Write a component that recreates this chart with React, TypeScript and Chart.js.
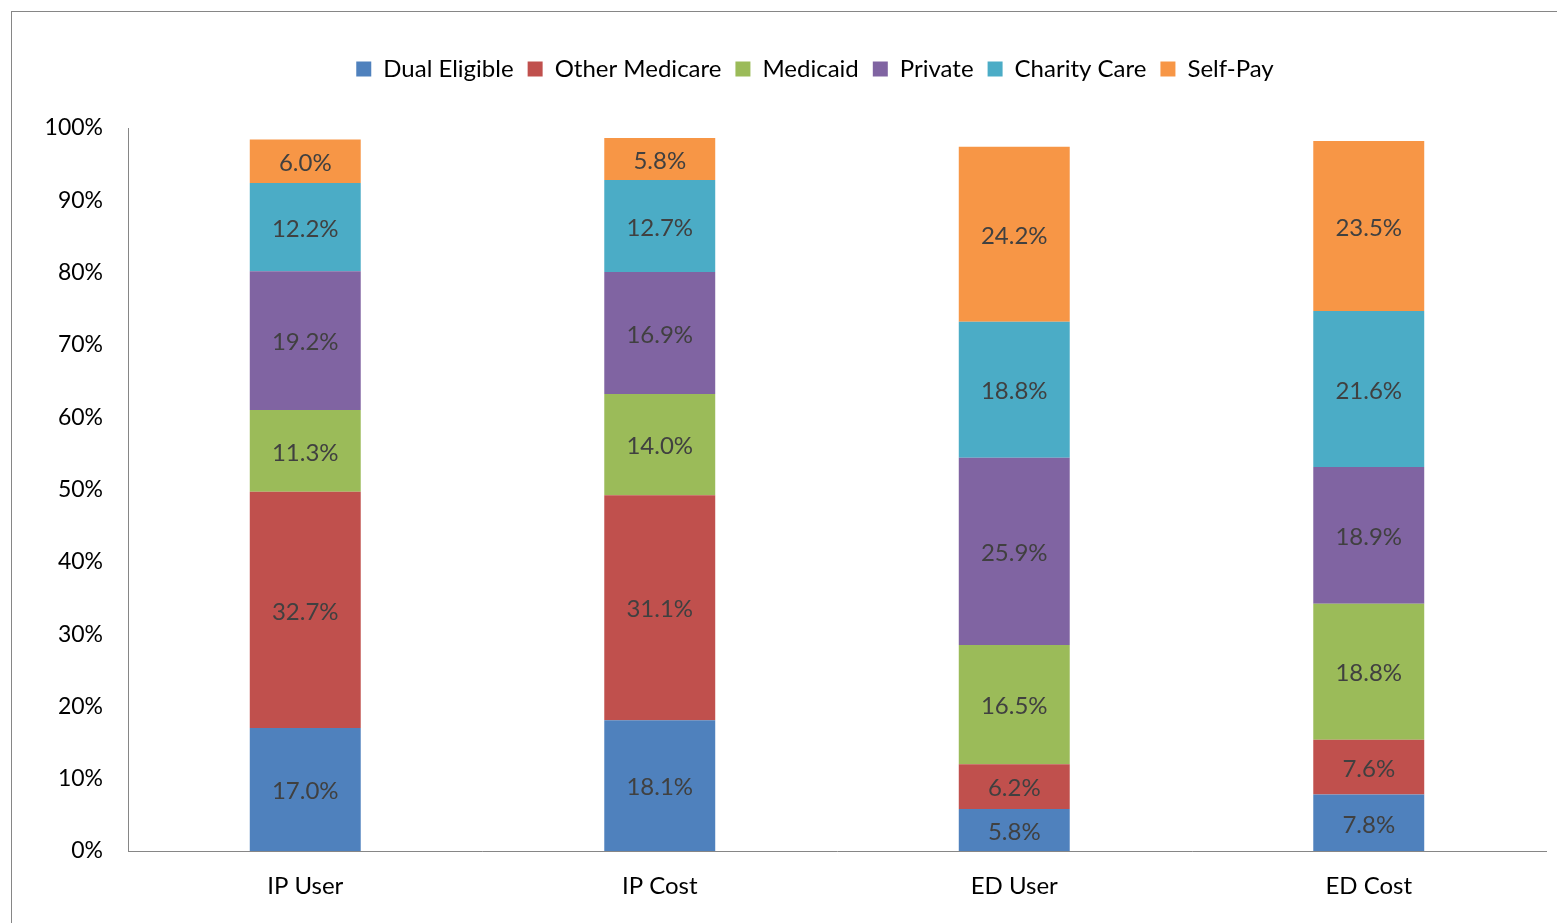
import React, { useEffect, useRef } from "react";
import { Chart, registerables } from "chart.js";

Chart.register(...registerables);

const categories = ["IP User", "IP Cost", "ED User", "ED Cost"];
const dualEligible = [17.0, 18.1, 5.8, 7.8];
const otherMedicare = [32.7, 31.1, 6.2, 7.6];
const medicaid = [11.3, 14.0, 16.5, 18.8];
const privateIns = [19.2, 16.9, 25.9, 18.9];
const charityCare = [12.2, 12.7, 18.8, 21.6];
const selfPay = [6.0, 5.8, 24.2, 23.5];
const yTicks = [0, 10, 20, 30, 40, 50, 60, 70, 80, 90, 100];

const FONT = "Lato";

const dataLabelPlugin = {
  id: "dataLabels",
  afterDatasetsDraw(chart: any) {
    const ctx = chart.ctx;
    ctx.save();
    ctx.font = `24px ${FONT}`;
    ctx.fillStyle = "#404040";
    ctx.textAlign = "center";
    ctx.textBaseline = "middle";
    chart.data.datasets.forEach((ds: any, i: number) => {
      const meta = chart.getDatasetMeta(i);
      meta.data.forEach((el: any, j: number) => {
        const v = ds.data[j];
        const cy = (el.y + el.base) / 2;
        ctx.fillText(`${v.toFixed(1)}%`, el.x, cy + 2);
      });
    });
    ctx.restore();
  },
};

const legendSpacer = {
  id: "legendSpacer",
  beforeInit(chart: any) {
    const orig = chart.legend.fit;
    chart.legend.fit = function () {
      orig.bind(chart.legend)();
      this.height += 37;
    };
  },
  afterLayout(chart: any) {
    chart.legend.left += 36;
    chart.legend.right += 36;
  },
};

export default function App() {
  const ref = useRef<HTMLCanvasElement>(null);
  useEffect(() => {
    if (!ref.current) return;
    const mk = (label: string, data: number[], color: string) => ({
      label,
      data,
      backgroundColor: color,
      borderWidth: 0,
      categoryPercentage: 1,
      barPercentage: 0.313,
    });
    const chart = new Chart(ref.current, {
      type: "bar",
      data: {
        labels: categories,
        datasets: [
          mk("Dual Eligible", dualEligible, "#4F81BD"),
          mk("Other Medicare", otherMedicare, "#C0504D"),
          mk("Medicaid", medicaid, "#9BBB59"),
          mk("Private", privateIns, "#8064A2"),
          mk("Charity Care", charityCare, "#4BACC6"),
          mk("Self-Pay", selfPay, "#F79646"),
        ],
      },
      options: {
        responsive: false,
        animation: false,
        layout: { padding: { top: 31, right: 26, left: 0, bottom: 0 } },
        plugins: {
          legend: {
            position: "top",
            labels: {
              boxWidth: 15,
              boxHeight: 15,
              padding: 14,
              color: "#000",
              font: { family: FONT, size: 24 },
            },
          },
          tooltip: { enabled: false },
        },
        scales: {
          x: {
            stacked: true,
            grid: { display: false, drawTicks: false },
            border: { display: true, color: "#868686", width: 1 },
            ticks: { color: "#000", padding: 21, font: { family: FONT, size: 24 } },
            afterFit(scale: any) {
              scale.height = 91;
            },
          },
          y: {
            stacked: true,
            min: 0,
            max: 100,
            grid: { display: false, drawTicks: false },
            border: { display: true, color: "#868686", width: 1 },
            afterBuildTicks(scale: any) {
              scale.ticks = yTicks.map((v) => ({ value: v }));
            },
            ticks: {
              color: "#000",
              padding: 25,
              font: { family: FONT, size: 23 },
              callback: (v: any) => `${v}%`,
            },
            afterFit(scale: any) {
              scale.width = 116;
            },
          },
        },
      },
      plugins: [dataLabelPlugin, legendSpacer],
    });
    return () => chart.destroy();
  }, []);
  return (
    <div
      style={{
        position: "fixed",
        left: 11,
        top: 11,
        width: 1560,
        height: 930,
        border: "1px solid #868686",
        background: "#fff",
      }}
    >
      <canvas ref={ref} width={1560} height={930} style={{ display: "block" }} />
    </div>
  );
}
